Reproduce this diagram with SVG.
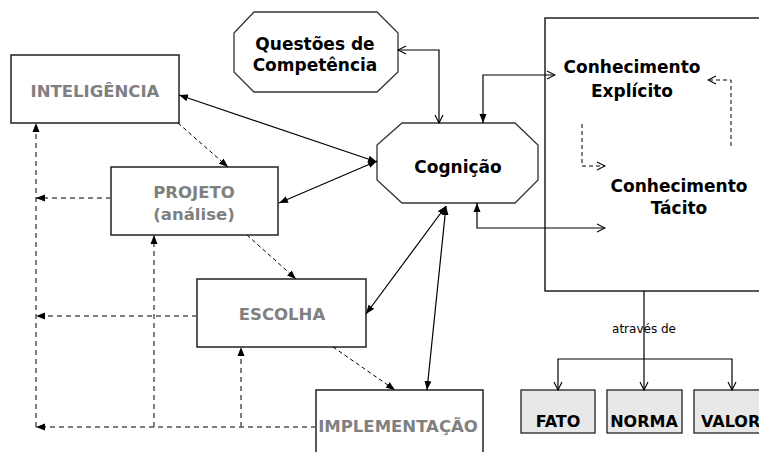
<svg xmlns="http://www.w3.org/2000/svg" width="759" height="452" viewBox="0 0 759 452">
<style>
.box{fill:#fff;stroke:#222;stroke-width:1.5}
.oct{fill:#fff;stroke:#333;stroke-width:1.3}
.kb{fill:#e8e8e8;stroke:#222;stroke-width:1.3}
.g{font-family:"DejaVu Sans",Verdana,sans-serif;font-weight:bold;font-size:16.5px;fill:#808080;text-anchor:middle}
.b{font-family:"DejaVu Sans",Verdana,sans-serif;font-weight:bold;font-size:17px;fill:#000;text-anchor:middle}
.k{font-family:"DejaVu Sans",Verdana,sans-serif;font-weight:bold;font-size:16px;fill:#000;text-anchor:middle}
.s{font-family:"DejaVu Sans",Verdana,sans-serif;font-size:12px;fill:#000;text-anchor:middle}
.ln{fill:none;stroke:#000;stroke-width:1.2}
.dg{fill:none;stroke:#555;stroke-width:1.5;stroke-dasharray:5,4}
.dk{fill:none;stroke:#000;stroke-width:1;stroke-dasharray:4,3}
</style>
<defs>
<marker id="af" markerUnits="userSpaceOnUse" markerWidth="10" markerHeight="8" refX="9" refY="4" orient="auto-start-reverse"><path d="M0,0.5 L9,4 L0,7.5 z" fill="#000"/></marker>
<marker id="ao" markerUnits="userSpaceOnUse" markerWidth="10" markerHeight="10" refX="9" refY="5" orient="auto-start-reverse"><path d="M1,1 L9,5 L1,9" fill="none" stroke="#000" stroke-width="1.1"/></marker>
</defs>

<g id="conhecimento">
<rect class="box" x="545" y="18" width="300" height="273"/>
<text class="b" x="632" y="73">Conhecimento</text>
<text class="b" x="632" y="97">Explícito</text>
<text class="b" x="679" y="192">Conhecimento</text>
<text class="b" x="679" y="214">Tácito</text>
</g>
<g id="inteligencia"><rect class="box" x="11" y="55" width="168" height="68"/><text class="g" x="95" y="97">INTELIGÊNCIA</text></g>
<g id="projeto"><rect class="box" x="111" y="167" width="167" height="68"/><text class="g" x="194" y="198">PROJETO</text><text class="g" x="194" y="220">(análise)</text></g>
<g id="escolha"><rect class="box" x="197" y="279" width="169" height="68"/><text class="g" x="282" y="320">ESCOLHA</text></g>
<g id="implementacao"><rect class="box" x="316" y="390" width="167" height="80"/><text class="g" x="398" y="432">IMPLEMENTAÇÃO</text></g>
<g id="questoes"><polygon class="oct" points="254,12 377,12 398,33 398,72 377,92 254,92 234,72 234,33"/><text class="b" x="315" y="50">Questões de</text><text class="b" x="315" y="71">Competência</text></g>
<g id="cognicao"><polygon class="oct" points="402,123 515,123 538,145 538,180 515,203 402,203 377,180 377,145"/><text class="b" x="458" y="173">Cognição</text></g>
<g id="fato"><rect class="kb" x="521" y="390" width="74" height="43"/><text class="k" x="558" y="427">FATO</text></g>
<g id="norma"><rect class="kb" x="607" y="390" width="75" height="43"/><text class="k" x="644" y="427">NORMA</text></g>
<g id="valor"><rect class="kb" x="694" y="390" width="100" height="43"/><text class="k" x="701" y="427" style="text-anchor:start">VALOR</text></g>

<g id="connectors">
<line class="ln" x1="179" y1="95" x2="377" y2="162" marker-start="url(#af)" marker-end="url(#af)"/>
<line class="ln" x1="279" y1="203" x2="377" y2="161" marker-start="url(#af)" marker-end="url(#af)"/>
<line class="ln" x1="366" y1="314" x2="446" y2="206" marker-start="url(#af)" marker-end="url(#af)"/>
<line class="ln" x1="427" y1="390" x2="446" y2="206" marker-start="url(#af)" marker-end="url(#af)"/>
<polyline class="ln" points="398,50 439,50 439,123" marker-start="url(#ao)" marker-end="url(#ao)"/>
<polyline class="ln" points="483,123 483,75 555,75" marker-start="url(#af)" marker-end="url(#ao)"/>
<polyline class="ln" points="477,203 477,228 605,228" marker-start="url(#af)" marker-end="url(#ao)"/>
<polyline class="dk" points="582,124 582,166 605,166" marker-end="url(#ao)"/>
<polyline class="dk" points="731,146 731,80 708,80" marker-end="url(#ao)"/>
<polyline class="ln" points="644,291 644,390" marker-end="url(#ao)"/>
<polyline class="ln" points="558,390 558,359 732,359 732,390" marker-start="url(#ao)" marker-end="url(#ao)"/>
<text class="s" x="644" y="333">através de</text>
<line class="dk" x1="178" y1="123" x2="228" y2="167" marker-end="url(#af)"/>
<line class="dk" x1="247" y1="235" x2="296" y2="279" marker-end="url(#af)"/>
<line class="dk" x1="333" y1="347" x2="395" y2="390" marker-end="url(#af)"/>
<line class="dg" x1="316" y1="427" x2="36" y2="427" marker-end="url(#af)"/>
<line class="dg" x1="36" y1="427" x2="36" y2="123" marker-end="url(#af)"/>
<line class="dg" x1="111" y1="198" x2="36" y2="198" marker-end="url(#af)"/>
<line class="dg" x1="197" y1="316" x2="36" y2="316" marker-end="url(#af)"/>
<line class="dg" x1="154" y1="427" x2="154" y2="235" marker-end="url(#af)"/>
<line class="dg" x1="241" y1="427" x2="241" y2="347" marker-end="url(#af)"/>
</g>
</svg>
